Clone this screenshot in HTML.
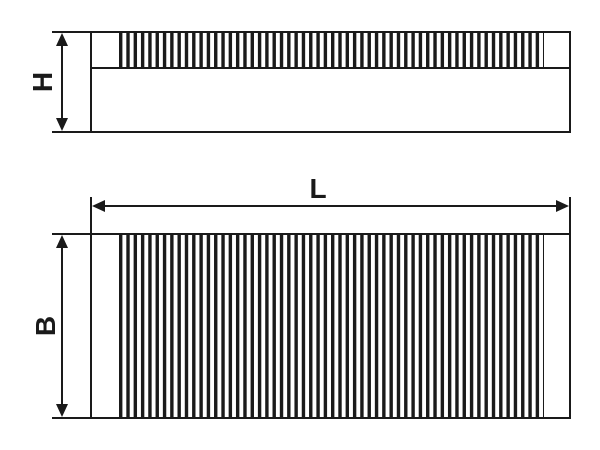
<!DOCTYPE html>
<html><head><meta charset="utf-8"><style>html,body{margin:0;padding:0;background:#fff}svg{display:block}</style></head>
<body>
<svg width="600" height="450" viewBox="0 0 600 450" xmlns="http://www.w3.org/2000/svg">
<defs>
<pattern id="st" patternUnits="userSpaceOnUse" x="119" y="0" width="7.31" height="10">
<rect x="0" y="0" width="3.4" height="10" fill="#1a1a1a"/>
</pattern>
</defs>
<g stroke="#1a1a1a" stroke-width="2" fill="none">
<line x1="52" y1="32" x2="571" y2="32"/>
<line x1="52" y1="132" x2="571" y2="132"/>
<line x1="91" y1="32" x2="91" y2="132"/>
<line x1="570" y1="32" x2="570" y2="132"/>
<line x1="91" y1="68" x2="570" y2="68"/>
<line x1="62" y1="42" x2="62" y2="122"/>
<line x1="52" y1="234" x2="571" y2="234"/>
<line x1="52" y1="418" x2="571" y2="418"/>
<line x1="91" y1="197" x2="91" y2="418"/>
<line x1="570" y1="197" x2="570" y2="418"/>
<line x1="101" y1="206" x2="560" y2="206"/>
<line x1="62" y1="244" x2="62" y2="408"/>
</g>
<rect x="119" y="33" width="425" height="35" fill="url(#st)"/>
<rect x="119" y="235" width="425" height="183" fill="url(#st)"/>
<g fill="#1a1a1a">
<polygon points="62,33 56,46 68,46"/>
<polygon points="62,131 56,118 68,118"/>
<polygon points="62,235 56,248 68,248"/>
<polygon points="62,417 56,404 68,404"/>
<polygon points="92,206 105,200 105,212"/>
<polygon points="569,206 556,200 556,212"/>
</g>
<g font-family="Liberation Sans, sans-serif" font-weight="bold" font-size="28" fill="#1a1a1a" text-anchor="middle">
<text x="318" y="198">L</text>
<text transform="translate(52,82) rotate(-90)">H</text>
<text transform="translate(55,326) rotate(-90)">B</text>
</g>
</svg>
</body></html>
